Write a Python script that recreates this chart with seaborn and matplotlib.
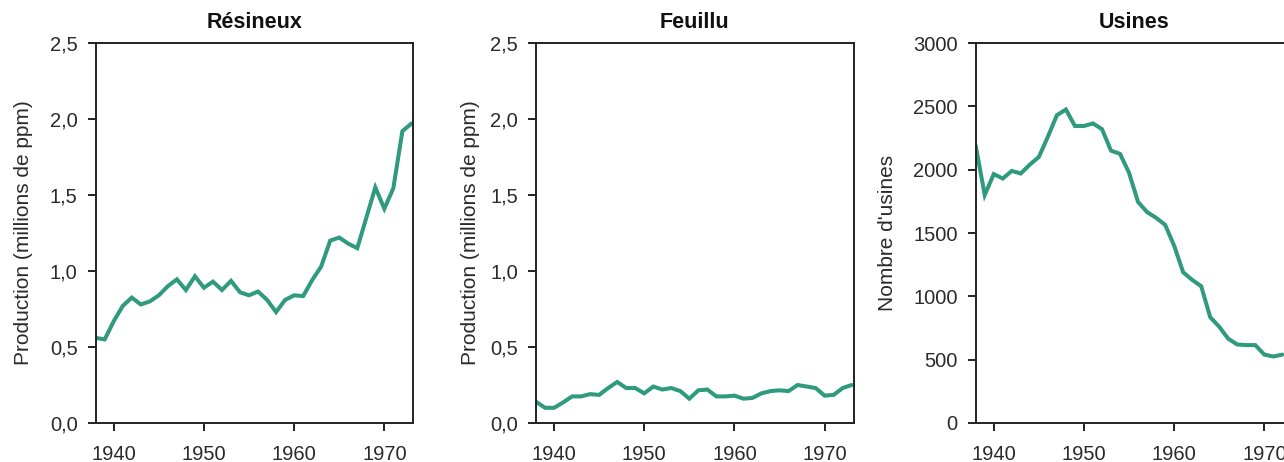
import numpy as np
import pandas as pd
import matplotlib
matplotlib.use("Agg")
import matplotlib.pyplot as plt
import seaborn as sns

# Annual series
years = list(range(1938, 1974))

resineux = [0.56, 0.55, 0.67, 0.77, 0.825, 0.78, 0.80, 0.84, 0.90, 0.945,
            0.875, 0.965, 0.89, 0.93, 0.875, 0.935, 0.86, 0.84, 0.865, 0.81,
            0.73, 0.81, 0.84, 0.835, 0.94, 1.03, 1.20, 1.22, 1.18, 1.15,
            1.35, 1.55, 1.41, 1.545, 1.92, 1.97]

feuillu = [0.14, 0.10, 0.10, 0.135, 0.175, 0.175, 0.19, 0.185, 0.23, 0.27,
           0.23, 0.23, 0.195, 0.24, 0.22, 0.23, 0.21, 0.16, 0.215, 0.22,
           0.175, 0.175, 0.18, 0.16, 0.165, 0.195, 0.21, 0.215, 0.21, 0.25,
           0.24, 0.23, 0.18, 0.185, 0.23, 0.25]

usines_years = list(range(1938, 1973))
usines = [2190, 1800, 1965, 1930, 1990, 1970, 2040, 2100, 2260, 2430,
          2475, 2345, 2345, 2365, 2320, 2150, 2125, 1975, 1745, 1665,
          1620, 1565, 1400, 1190, 1130, 1080, 835, 760, 665, 620,
          615, 615, 540, 525, 540]

titles = ["Résineux", "Feuillu", "Usines"]
ylabels = ["Production (millions de ppm)", "Production (millions de ppm)", "Nombre d'usines"]
prod_ticks = [0.0, 0.5, 1.0, 1.5, 2.0, 2.5]
usine_ticks = [0, 500, 1000, 1500, 2000, 2500, 3000]
x_ticks = [1940, 1950, 1960, 1970]

sns.set_style("white")
plt.rcParams["font.family"] = ["Liberation Sans", "DejaVu Sans"]

line_color = "#2f9a7e"
ink = "#222222"

fig = plt.figure(figsize=(12.84, 4.62), dpi=100)
W, H = 1284, 462
bottom_px, top_px = 423, 43
ax_w = 317.5
lefts = [95.7, 536.0, 975.7]
label_x = [-0.197, -0.176, -0.248]
axes = [fig.add_axes([l / W, (H - bottom_px) / H, ax_w / W, (bottom_px - top_px) / H])
        for l in lefts]

frames = [
    pd.DataFrame({"annee": years, "valeur": resineux}),
    pd.DataFrame({"annee": years, "valeur": feuillu}),
    pd.DataFrame({"annee": usines_years, "valeur": usines}),
]

for i, (ax, df) in enumerate(zip(axes, frames)):
    sns.lineplot(data=df, x="annee", y="valeur", ax=ax, color=line_color,
                 linewidth=2.9, solid_joinstyle="miter")
    ax.set_xlim(1938, 1973.2)
    ax.set_xticks(x_ticks)
    ax.set_xticklabels([str(t) for t in x_ticks])
    if i < 2:
        ax.set_ylim(0, 2.5)
        ax.set_yticks(prod_ticks)
        ax.set_yticklabels([f"{t:.1f}".replace(".", ",") for t in prod_ticks])
    else:
        ax.set_ylim(0, 3000)
        ax.set_yticks(usine_ticks)
        ax.set_yticklabels([str(t) for t in usine_ticks])
    ax.set_xlabel("")
    ax.set_ylabel(ylabels[i], fontsize=15, color="#2a2a2a")
    ax.yaxis.set_label_coords(label_x[i], 0.5)
    ax.set_title(titles[i], fontsize=15.5, fontweight="bold", pad=11, color="#111111")
    for side in ["left", "right", "top", "bottom"]:
        ax.spines[side].set_visible(True)
        ax.spines[side].set_color(ink)
        ax.spines[side].set_linewidth(1.4)
    ax.tick_params(axis="both", which="major", direction="out", length=6,
                   width=1.4, color=ink, labelsize=14.5, labelcolor="#2a2a2a",
                   left=True, bottom=True, right=False, top=False)
    ax.tick_params(axis="x", pad=10)
    ax.tick_params(axis="y", pad=7)
    ax.grid(False)

fig.savefig("out.png", dpi=100, facecolor="white")
